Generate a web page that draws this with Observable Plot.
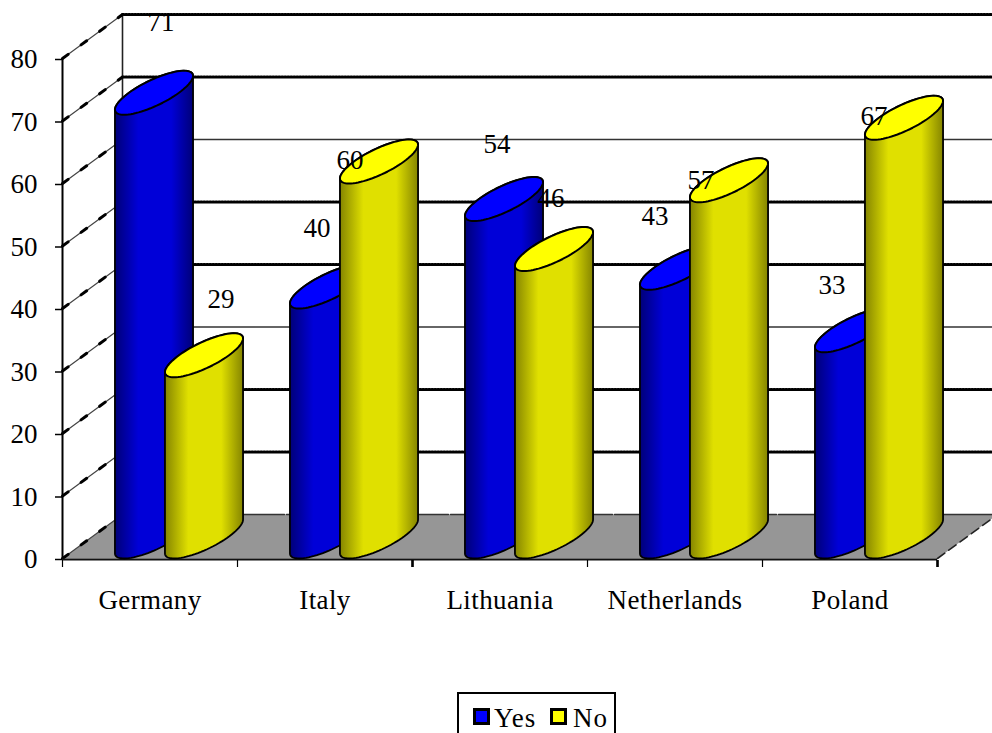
<!DOCTYPE html>
<html>
<head>
<meta charset="utf-8">
<script src="https://cdn.jsdelivr.net/npm/d3@7"></script>
<script src="https://cdn.jsdelivr.net/npm/@observablehq/plot@0.6"></script>
<style>
  html, body { margin: 0; padding: 0; background: #fff; overflow: hidden; }
  #chart svg { display: block; }
  #legend {
    position: absolute; left: 457px; top: 692px; width: 155px; height: 60px;
    border: 2px solid #000; font: 27px "Liberation Serif", serif; color: #000;
  }
  .swatch { position: absolute; top: 14px; width: 11px; height: 11px; border: 3px solid #000; }
  .label { position: absolute; top: 5px; line-height: 38px; letter-spacing: 1px; }
  g[aria-label="x-axis tick label"] text { letter-spacing: 0.4px; }
</style>
</head>
<body>
<div id="chart"></div>
<div id="legend">
  <span class="swatch" style="left:14px;background:#0000ff"></span><span class="label" style="left:35px">Yes</span>
  <span class="swatch" style="left:91px;background:#ffff00"></span><span class="label" style="left:114px">No</span>
</div>
<script>
const categories = ["Germany", "Italy", "Lithuania", "Netherlands", "Poland"];
const yesValues = [71, 40, 54, 43, 33];
const noValues = [29, 60, 46, 57, 67];
const valueTicks = [0, 10, 20, 30, 40, 50, 60, 70, 80];
const solidGridTicks = [30, 60];

// Hand-placed data label offsets from each cylinder's front top (pixels)
const yesLabelOffset = [[6, -92], [-13, -80], [-8, -77], [-25, -73], [-23, -67]];
const noLabelOffset = [[16, -78], [-30, -23], [-4, -73], [-29, -22], [-31, -23]];

// 3D projection: how far one full unit of chart depth shifts in data units
const DEPTH_X = 60 / 175;
const DEPTH_Y = 7.04;
const RADIUS = 25 / 175;
const CYL_SHIFT = -1 / 175;
const project = (x, y, d) => ({x: x + d * DEPTH_X, y: y + d * DEPTH_Y});

const SIL = Math.atan2(DEPTH_X / 2, RADIUS);
const ring = (cx, v, t) => {
  const s = 0.5 + 0.5 * Math.sin(t);
  return {x: cx + RADIUS * Math.cos(t) + DEPTH_X * s, y: v + DEPTH_Y * s};
};
const arc = (cx, v, t0, t1, n = 40) => d3.range(n + 1).map(i => ring(cx, v, t0 + (t1 - t0) * i / n));

function bodyShape(cx, v) {
  const pts = [...arc(cx, v, SIL, SIL + Math.PI), ...arc(cx, 0, SIL + Math.PI, SIL + 2 * Math.PI)];
  return [...pts, pts[0]];
}
const topShape = (cx, v) => arc(cx, v, 0, 2 * Math.PI, 80);

function gradient(id, edge, mid) {
  const g = d3.create("svg:linearGradient").attr("id", id).attr("x1", 0).attr("x2", 1).attr("y1", 0).attr("y2", 0);
  [[0, edge], [0.3, mid], [0.72, mid], [1, edge]].forEach(([o, c]) =>
    g.append("stop").attr("offset", o).attr("stop-color", c));
  return g.node();
}
const defs = () => {
  const d = d3.create("svg:defs");
  d.append(() => gradient("gYes", "#000078", "#0000d8"));
  d.append(() => gradient("gNo", "#858500", "#e0e000"));
  return d.node();
};

const X = d => d.x, Y = d => d.y;

const cylinders = categories.flatMap((_, i) => {
  const mk = (v, cx, grad, top) => [
    Plot.line(bodyShape(cx, v), {x: X, y: Y, fill: grad, stroke: "#000", strokeWidth: 1.8, curve: "linear"}),
    Plot.line(topShape(cx, v), {x: X, y: Y, fill: top, stroke: "#000", strokeWidth: 2, curve: "linear"})
  ];
  return [
    ...mk(yesValues[i], i + 0.5 - RADIUS + CYL_SHIFT, "url(#gYes)", "#0000ff"),
    ...mk(noValues[i], i + 0.5 + RADIUS + CYL_SHIFT, "url(#gNo)", "#ffff00")
  ];
});

const labelMark = (value, cx, [dx, dy]) =>
  Plot.text([value], {x: cx + DEPTH_X / 2, y: d => d, text: d => String(d), dx, dy, fontSize: 27, fill: "#000"});
const valueLabels = categories.flatMap((_, i) => [
  labelMark(yesValues[i], i + 0.5 - RADIUS, yesLabelOffset[i]),
  labelMark(noValues[i], i + 0.5 + RADIUS, noLabelOffset[i])
]);

const plot = Plot.plot({
  width: 992,
  height: 690,
  marginLeft: 62,
  marginRight: 55,
  marginTop: 58,
  marginBottom: 132,
  x: {type: "linear", domain: [0, 5]},
  y: {type: "linear", domain: [0, 80]},
  style: {fontFamily: "'Liberation Serif', serif", fontSize: "27px", background: "#fff", color: "#000"},
  marks: [
    defs,
    // floor
    Plot.line([project(0, 0, 0), project(5, 0, 0), project(5, 0, 1), project(0, 0, 1), project(0, 0, 0)],
      {x: X, y: Y, fill: "#969696", stroke: "none", curve: "linear"}),
    // back wall grid lines
    ...valueTicks.filter(v => v > 0).flatMap(v => {
      const data = [project(0, v, 1), project(5, v, 1)];
      return solidGridTicks.includes(v)
        ? [Plot.line(data, {x: X, y: Y, stroke: "#333", strokeWidth: 1.4, curve: "linear"})]
        : [
            Plot.line(data, {x: X, y: Y, stroke: "#222", strokeWidth: 1.2, curve: "linear"}),
            Plot.line(data, {x: X, y: Y, stroke: "#000", strokeWidth: 3, strokeDasharray: "1.5 1.5", curve: "linear"})
          ];
    }),
    // floor back edge
    Plot.line([project(0, 0, 1), project(5, 0, 1)], {x: X, y: Y, stroke: "#333", strokeWidth: 1.4, strokeDasharray: "80 2", curve: "linear"}),
    // back wall vertical
    Plot.line([project(0, 0, 1), project(0, 80, 1)], {x: X, y: Y, stroke: "#222", strokeWidth: 1.6, curve: "linear"}),
    // side wall diagonals
    ...valueTicks.flatMap(v => {
      const data = [project(0, v, 0), project(0, v, 1)];
      return [
        Plot.line(data, {x: X, y: Y, stroke: "#444", strokeWidth: 1.2, curve: "linear"}),
        Plot.line(data, {x: X, y: Y, stroke: "#000", strokeWidth: 3, strokeDasharray: "7 16", curve: "linear"})
      ];
    }),
    // right floor edge
    Plot.line([project(5, 0, 0), project(5, 0, 1)], {x: X, y: Y, stroke: "#222", strokeWidth: 1.6, strokeDasharray: "9 5", curve: "linear"}),
    // front axes
    Plot.axisY({ticks: valueTicks, tickSize: 7, tickPadding: 18, label: null, fontSize: 27, stroke: "#000", strokeWidth: 1.5, dy: 1, tickFormat: d => String(d)}),
    Plot.ruleX([0], {y1: 0, y2: 80, stroke: "#000", strokeWidth: 2}),
    Plot.ruleY([0], {x1: 0, x2: 5, stroke: "#111", strokeWidth: 2, dy: 1}),
    Plot.axisX({ticks: [0, 1, 2, 3, 4, 5], tickSize: 7, tickFormat: () => "", label: null, strokeWidth: 1.2, dy: 2}),
    Plot.axisX({ticks: [2, 5], tickSize: 7, tickFormat: () => "", label: null, strokeWidth: 2.6, dy: 2}),
    Plot.axisX({ticks: categories.map((_, i) => i + 0.5), tickSize: 0, tickPadding: 31, fontSize: 27, label: null, tickFormat: d => categories[d - 0.5]}),
    ...cylinders,
    ...valueLabels
  ]
});
document.getElementById("chart").append(plot);
</script>
</body>
</html>
